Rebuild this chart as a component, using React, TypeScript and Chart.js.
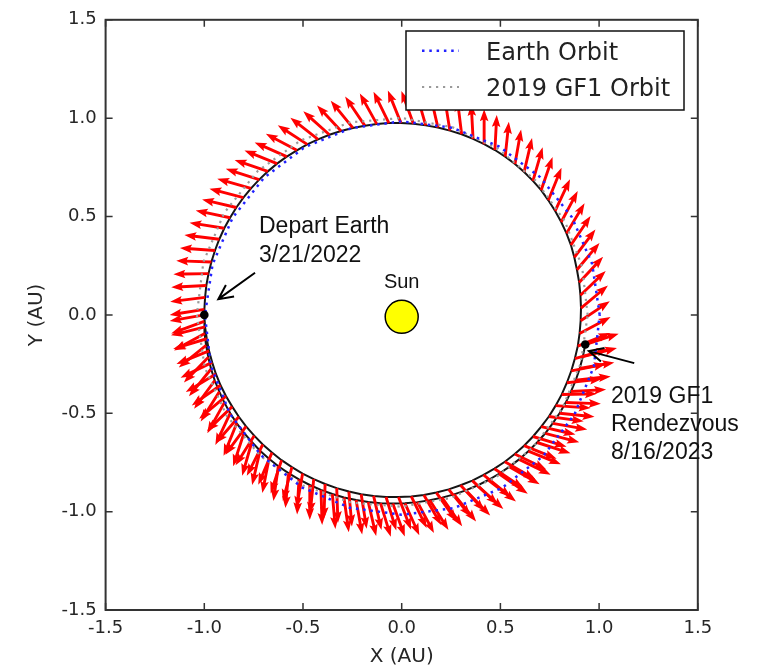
import React, { useEffect, useRef } from 'react';
import { Chart, registerables } from 'chart.js';

Chart.register(...registerables);

// ---------------- data ----------------
const TICK_VALUES = [-1.5, -1.0, -0.5, 0.0, 0.5, 1.0, 1.5];

// orbit samples: polar angle (deg) and heliocentric radius (AU)
const ORBIT_ANGLE_DEG = [0, 15, 30, 45, 60, 75, 90, 105, 120, 135, 150, 165, 180, 195, 210, 225, 240, 255, 270, 285, 300, 315, 330, 345, 360];
const EARTH_ORBIT_R = [1.003, 0.999, 0.995, 0.991, 0.988, 0.985, 0.984, 0.983, 0.984, 0.986, 0.989, 0.992, 0.997, 1.001, 1.005, 1.009, 1.012, 1.015, 1.016, 1.017, 1.016, 1.014, 1.011, 1.008, 1.003];
const GF1_ORBIT_R = [0.942, 0.946, 0.954, 0.963, 0.975, 0.988, 1.001, 1.013, 1.024, 1.033, 1.038, 1.040, 1.038, 1.033, 1.024, 1.013, 1.001, 0.988, 0.975, 0.963, 0.954, 0.946, 0.942, 0.940, 0.942];

// spacecraft trajectory samples (cumulative polar angle, deg) with radius (AU)
const TRAJ_ANGLE_DEG = [
  180.0, 183.5, 187.0, 190.6, 194.1, 197.7, 201.3, 204.9, 208.5, 212.1,
  215.7, 219.4, 223.1, 226.8, 230.5, 234.3, 238.1, 241.9, 245.7, 249.5,
  253.4, 257.3, 261.2, 265.1, 269.0, 273.0, 277.0, 281.0, 285.0, 289.0,
  293.0, 297.0, 301.0, 305.0, 309.0, 313.0, 317.1, 321.2, 325.3, 329.4,
  333.5, 337.6, 341.7, 345.8, 349.9, 354.0, 358.1, 362.2, 366.3, 370.4,
  374.5, 378.5, 382.5, 386.4, 390.3, 394.2, 398.1, 401.9, 405.7, 409.5,
  413.2, 416.9, 420.6, 424.3, 428.0, 431.7, 435.4, 439.1, 442.8, 446.5,
  450.2, 453.8, 457.4, 461.0, 464.6, 468.2, 471.8, 475.4, 478.9, 482.4,
  485.9, 489.4, 492.9, 496.4, 499.9, 503.4, 506.9, 510.4, 513.9, 517.4,
  520.9, 524.4, 527.9, 531.4, 534.9, 538.4,
  541.9, 545.4, 548.9, 552.4, 555.9, 559.4, 562.9, 566.4, 569.9, 573.4,
  576.9, 580.4, 583.9, 587.4, 590.9, 594.5, 598.1, 601.7, 605.3, 608.9,
  612.5, 616.2, 619.9, 623.6, 627.3, 631.0, 634.8, 638.6, 642.4, 646.2,
  650.0, 653.8, 657.6, 661.4, 665.2, 669.0, 672.8, 676.6, 680.4, 684.2,
  688.0, 691.8, 695.6, 699.4, 703.2, 707.0, 710.8,
];
const TRAJ_R = [
  1.000, 0.998, 0.995, 0.993, 0.990, 0.988, 0.985, 0.981, 0.977, 0.974,
  0.971, 0.967, 0.964, 0.960, 0.957, 0.953, 0.950, 0.946, 0.943, 0.940,
  0.937, 0.934, 0.931, 0.929, 0.926, 0.924, 0.922, 0.920, 0.918, 0.916,
  0.915, 0.913, 0.912, 0.911, 0.910, 0.909, 0.908, 0.907, 0.907, 0.906,
  0.906, 0.905, 0.905, 0.905, 0.906, 0.906, 0.907, 0.909, 0.911, 0.914,
  0.917, 0.922, 0.928, 0.932, 0.936, 0.940, 0.944, 0.949, 0.952, 0.955,
  0.958, 0.960, 0.962, 0.963, 0.965, 0.967, 0.968, 0.970, 0.971, 0.973,
  0.975, 0.977, 0.978, 0.980, 0.982, 0.984, 0.986, 0.988, 0.990, 0.991,
  0.993, 0.995, 0.996, 0.997, 0.998, 0.999, 1.000, 1.000, 1.001, 1.001,
  1.001, 1.001, 1.001, 1.001, 1.000, 1.000,
  1.001, 1.002, 1.003, 1.003, 1.004, 1.004, 1.003, 1.003, 1.002, 1.001,
  0.999, 0.997, 0.996, 0.993, 0.991, 0.988, 0.985, 0.982, 0.979, 0.976,
  0.973, 0.969, 0.966, 0.963, 0.960, 0.958, 0.955, 0.953, 0.951, 0.950,
  0.949, 0.948, 0.947, 0.946, 0.945, 0.945, 0.944, 0.944, 0.944, 0.943,
  0.943, 0.943, 0.942, 0.942, 0.942, 0.942, 0.942,
];
// thrust vector direction at each trajectory sample (deg from +x, counter-clockwise)
const THRUST_DIR_DEG = [
  190, 194, 197, 202, 206, 211, 215, 220, 224, 229,
  234, 238, 243, 247, 252, 255, 260, 264, 268, 272,
  275, 279, 283, 287, 291, 296, 300, 305, 309, 313,
  317, 321, 326, 330, 334, 338, 343, 347, 352, 356,
  361, 366, 371, 376, 382, 388, 394, 400, 404, 407,
  410, 413, 416, 419, 422, 425, 428, 431, 434, 437,
  440, 444, 447, 450, 453, 457, 459, 463, 466, 470,
  472, 476, 479, 484, 489, 493, 498, 502, 507, 512,
  516, 518, 521, 522, 524, 525, 527, 528, 531, 533,
  536, 538, 541, 543, 547, 549,
  560, 569, 579, 586, 591, 594, 598, 601, 605, 608,
  612, 614, 617, 619, 622, 625, 627, 630, 632, 635,
  638, 640, 643, 647, 650, 654, 658, 662, 665, 669,
  674, 678, 682, 685, 690, 694, 698, 702, 705, 710,
  714, 718, 723, 726, 730, 734, 738,
];
const THRUST_LENGTH_AU = 0.178;

const SUN_POS = [{ x: 0, y: -0.01 }];
const LEGEND_LABELS = ['Earth Orbit', '2019 GF1 Orbit'];
const DEPART_TEXT = ['Depart Earth', '3/21/2022'];
const RENDEZVOUS_TEXT = ['2019 GF1', 'Rendezvous', '8/16/2023'];
const SUN_TEXT = 'Sun';
const X_TITLE = 'X (AU)';
const Y_TITLE = 'Y (AU)';

// ---------------- helpers ----------------
const D2R = Math.PI / 180;
function polarToXY(angles: number[], radii: number[]) {
  return angles.map((a, i) => ({ x: radii[i] * Math.cos(a * D2R), y: radii[i] * Math.sin(a * D2R) }));
}

function quiverArrow(ctx: CanvasRenderingContext2D, x0: number, y0: number, x1: number, y1: number) {
  const shaftW = 2.9, headW = 8.6, headL = 12, headAxisL = 10.5;
  const dx = x1 - x0, dy = y1 - y0;
  const len = Math.hypot(dx, dy);
  if (len < 1e-6) return;
  const ux = dx / len, uy = dy / len, px = -uy, py = ux;
  const hl = Math.min(headL, len), hal = Math.min(headAxisL, len);
  ctx.beginPath();
  ctx.moveTo(x0 + px * shaftW / 2, y0 + py * shaftW / 2);
  ctx.lineTo(x1 - ux * hal + px * shaftW / 2, y1 - uy * hal + py * shaftW / 2);
  ctx.lineTo(x1 - ux * hl + px * headW / 2, y1 - uy * hl + py * headW / 2);
  ctx.lineTo(x1, y1);
  ctx.lineTo(x1 - ux * hl - px * headW / 2, y1 - uy * hl - py * headW / 2);
  ctx.lineTo(x1 - ux * hal - px * shaftW / 2, y1 - uy * hal - py * shaftW / 2);
  ctx.lineTo(x0 - px * shaftW / 2, y0 - py * shaftW / 2);
  ctx.closePath();
  ctx.fill();
}

function openArrow(ctx: CanvasRenderingContext2D, x0: number, y0: number, x1: number, y1: number) {
  const dx = x1 - x0, dy = y1 - y0;
  const ang = Math.atan2(dy, dx);
  const hl = 16, spread = 26 * D2R;
  ctx.beginPath();
  ctx.moveTo(x0, y0);
  ctx.lineTo(x1, y1);
  ctx.moveTo(x1 - hl * Math.cos(ang - spread), y1 - hl * Math.sin(ang - spread));
  ctx.lineTo(x1, y1);
  ctx.lineTo(x1 - hl * Math.cos(ang + spread), y1 - hl * Math.sin(ang + spread));
  ctx.stroke();
}

const TRAJ_INDEX = 0;

const thrustPlugin = {
  id: 'thrustArrows',
  afterDatasetDraw(chart: any, args: any) {
    if (args.index !== TRAJ_INDEX) return;
    const { ctx, scales, chartArea } = chart;
    const xs = scales.x, ys = scales.y;
    ctx.save();
    ctx.beginPath();
    ctx.rect(chartArea.left, chartArea.top, chartArea.right - chartArea.left, chartArea.bottom - chartArea.top);
    ctx.clip();
    ctx.fillStyle = '#ff0000';
    for (let i = 0; i < TRAJ_ANGLE_DEG.length; i++) {
      const th = TRAJ_ANGLE_DEG[i] * D2R;
      const bx = TRAJ_R[i] * Math.cos(th), by = TRAJ_R[i] * Math.sin(th);
      const ph = THRUST_DIR_DEG[i] * D2R;
      const tx = bx + THRUST_LENGTH_AU * Math.cos(ph), ty = by + THRUST_LENGTH_AU * Math.sin(ph);
      quiverArrow(ctx, xs.getPixelForValue(bx), ys.getPixelForValue(by), xs.getPixelForValue(tx), ys.getPixelForValue(ty));
    }
    ctx.restore();
  },
};

const decorPlugin = {
  id: 'decor',
  afterDraw(chart: any) {
    const { ctx, chartArea: ca, scales } = chart;
    const xs = scales.x, ys = scales.y;
    const X = (v: number) => xs.getPixelForValue(v);
    const Y = (v: number) => ys.getPixelForValue(v);
    ctx.save();

    // frame + inward ticks on all sides
    ctx.strokeStyle = '#333';
    ctx.lineWidth = 2;
    ctx.strokeRect(ca.left, ca.top, ca.right - ca.left, ca.bottom - ca.top);
    ctx.lineWidth = 1.5;
    ctx.beginPath();
    for (const v of TICK_VALUES) {
      const px = X(v), py = Y(v);
      ctx.moveTo(px, ca.bottom); ctx.lineTo(px, ca.bottom - 7);
      ctx.moveTo(px, ca.top); ctx.lineTo(px, ca.top + 7);
      ctx.moveTo(ca.left, py); ctx.lineTo(ca.left + 7, py);
      ctx.moveTo(ca.right, py); ctx.lineTo(ca.right - 7, py);
    }
    ctx.stroke();

    // axis titles
    ctx.fillStyle = '#262626';
    ctx.font = '20px "DejaVu Sans"';
    ctx.textAlign = 'center';
    ctx.textBaseline = 'middle';
    ctx.fillText(X_TITLE, (ca.left + ca.right) / 2, 657);
    ctx.save();
    ctx.translate(37, (ca.top + ca.bottom) / 2);
    ctx.rotate(-Math.PI / 2);
    ctx.fillText(Y_TITLE, 0, 0);
    ctx.restore();

    // annotations
    ctx.fillStyle = '#111';
    ctx.textBaseline = 'alphabetic';
    ctx.textAlign = 'center';
    ctx.font = '20px "Liberation Sans", Arial, sans-serif';
    ctx.fillText(SUN_TEXT, X(0), Y(0.138));
    ctx.textAlign = 'left';
    ctx.font = '23px "Liberation Sans", Arial, sans-serif';
    DEPART_TEXT.forEach((t, i) => ctx.fillText(t, X(-0.723), Y(0.417) + i * 29.3));
    RENDEZVOUS_TEXT.forEach((t, i) => ctx.fillText(t, X(1.060), Y(-0.4475) + i * 28));
    ctx.strokeStyle = '#000';
    ctx.lineWidth = 2;
    openArrow(ctx, X(-0.743), Y(0.214), X(-0.929), Y(0.080));
    openArrow(ctx, X(1.178), Y(-0.245), X(0.948), Y(-0.184));

    // legend
    const ds = chart.data.datasets;
    const entries = [
      { label: LEGEND_LABELS[0], color: ds[2].borderColor, w: ds[2].borderWidth, dash: ds[2].borderDash },
      { label: LEGEND_LABELS[1], color: ds[1].borderColor, w: ds[1].borderWidth, dash: ds[1].borderDash },
    ];
    ctx.fillStyle = '#ffffff';
    ctx.fillRect(406, 31, 278, 79);
    ctx.strokeStyle = '#111';
    ctx.lineWidth = 1.5;
    ctx.strokeRect(406, 31, 278, 79);
    const rowY = [50.7, 87.0];
    entries.forEach((e, i) => {
      ctx.strokeStyle = e.color;
      ctx.lineWidth = e.w;
      ctx.setLineDash(e.dash);
      ctx.beginPath();
      ctx.moveTo(422, rowY[i]);
      ctx.lineTo(459, rowY[i]);
      ctx.stroke();
      ctx.setLineDash([]);
      ctx.fillStyle = '#222';
      ctx.font = '24px "DejaVu Sans"';
      ctx.textAlign = 'left';
      ctx.textBaseline = 'alphabetic';
      ctx.fillText(e.label, 486, rowY[i] + 8.8);
    });
    ctx.restore();
  },
};

export default function App() {
  const ref = useRef<HTMLCanvasElement>(null);
  useEffect(() => {
    document.body.style.margin = '0';
    const canvas = ref.current!;
    const trajPts = polarToXY(TRAJ_ANGLE_DEG, TRAJ_R);
    const earthPts = polarToXY(ORBIT_ANGLE_DEG, EARTH_ORBIT_R);
    const gf1Pts = polarToXY(ORBIT_ANGLE_DEG, GF1_ORBIT_R);
    const eventPts = [trajPts[0], trajPts[trajPts.length - 1]];
    const tickFont = { family: 'DejaVu Sans', size: 18 };
    const chart = new Chart(canvas, {
      type: 'scatter',
      data: {
        datasets: [
          { label: 'Trajectory', data: trajPts, showLine: true, borderColor: '#151515', borderWidth: 2, pointRadius: 0, order: 10 },
          { label: '2019 GF1 Orbit', data: gf1Pts, showLine: true, borderColor: '#9a9a9a', borderWidth: 2.2, borderDash: [2.2, 4.8], borderCapStyle: 'butt', pointRadius: 0, order: 8 },
          { label: 'Earth Orbit', data: earthPts, showLine: true, borderColor: '#2222ff', borderWidth: 2.5, borderDash: [2.5, 4.8], borderCapStyle: 'butt', pointRadius: 0, order: 7 },
          { label: 'Sun', data: SUN_POS, pointRadius: 16.5, pointBackgroundColor: '#ffff00', pointBorderColor: '#000', pointBorderWidth: 1.5, order: 3 },
          { label: 'Events', data: eventPts, pointRadius: 4.3, pointBackgroundColor: '#000', pointBorderColor: '#000', pointBorderWidth: 0, order: 2 },
        ],
      } as any,
      options: {
        animation: false,
        responsive: false,
        maintainAspectRatio: false,
        events: [],
        layout: { padding: { top: 18, right: 61.2, bottom: 0, left: 0 } },
        plugins: { legend: { display: false }, tooltip: { enabled: false }, title: { display: false } },
        scales: {
          x: {
            type: 'linear', position: 'bottom', min: -1.5, max: 1.5,
            grid: { display: false, drawTicks: false }, border: { display: false },
            ticks: { font: tickFont, color: '#262626', padding: 8, maxRotation: 0, autoSkip: false, callback: (v: any) => Number(v).toFixed(1) },
            afterBuildTicks: (s: any) => { s.ticks = TICK_VALUES.map((v) => ({ value: v })); },
            afterFit: (s: any) => { s.height = 58; },
          },
          y: {
            type: 'linear', position: 'left', min: -1.5, max: 1.5,
            grid: { display: false, drawTicks: false }, border: { display: false },
            ticks: { font: tickFont, color: '#262626', padding: 9, autoSkip: false, callback: (v: any) => Number(v).toFixed(1) },
            afterBuildTicks: (s: any) => { s.ticks = TICK_VALUES.map((v) => ({ value: v })); },
            afterFit: (s: any) => { s.width = 105.6; },
          },
        },
      } as any,
      plugins: [thrustPlugin, decorPlugin],
    });
    return () => chart.destroy();
  }, []);
  return <canvas ref={ref} width={759} height={668} style={{ display: 'block' }} />;
}
